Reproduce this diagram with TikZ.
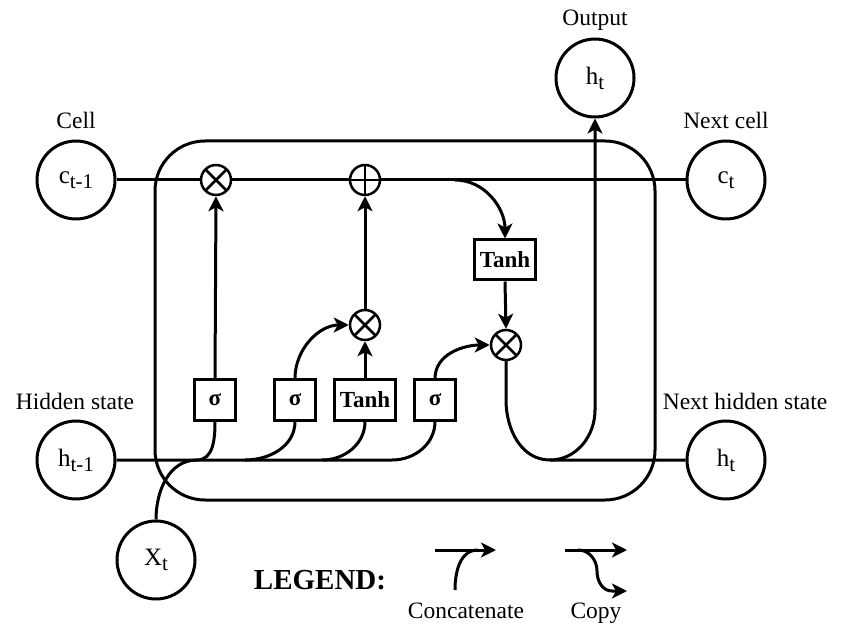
\documentclass[tikz,border=0pt]{standalone}
\usepackage{fontspec}
\setmainfont{Liberation Serif}
\usetikzlibrary{positioning, arrows.meta}

\newcommand{\lsub}[1]{\raisebox{-5pt}{\fontsize{21}{21}\selectfont #1}}

\tikzset{
  unit/.style={draw, circle, line width=3pt, minimum size=78pt, inner sep=0pt, font=\fontsize{25}{28}\selectfont},
  lbl/.style={font=\fontsize{23.5}{28}\selectfont},
  gate/.style={draw, fill=white, line width=3pt, minimum width=41pt, minimum height=40pt, inner sep=0pt, font=\bfseries\fontsize{23}{26}\selectfont},
  wgate/.style={gate, minimum width=61pt},
  opmul/.style={draw, circle, fill=white, line width=2.5pt, minimum size=30pt, inner sep=0pt,
    path picture={\draw[line width=2.5pt] (path picture bounding box.north west) -- (path picture bounding box.south east)
      (path picture bounding box.north east) -- (path picture bounding box.south west);}},
  opadd/.style={draw, circle, fill=white, line width=2.5pt, minimum size=30pt, inner sep=0pt,
    path picture={\draw[line width=2.5pt] (path picture bounding box.north) -- (path picture bounding box.south)
      (path picture bounding box.west) -- (path picture bounding box.east);}},
  wire/.style={line width=3pt},
  arr/.style={wire, -{Stealth[length=15pt,width=15pt,inset=4pt]}},
}

\begin{document}
\begin{tikzpicture}[x=1pt, y=1pt]
\useasboundingbox (0,0) rectangle (842,632);

% --- Cell body ---
\draw[wire, rounded corners=50pt] (155,491) rectangle (655,132);

% --- Inputs and outputs ---
\node[unit] (cprev) at (76,452) {c\lsub{t-1}};
\node[lbl] (lcell) at (76,512) {Cell};
\node[unit] (hprev) at (76,172) {h\lsub{t-1}};
\node[lbl] (lhid) at (75,231) {Hidden state};
\node[unit] (xt) at (156,72) {X\lsub{t}};
\node[unit] (out) at (595,554) {h\lsub{t}};
\node[lbl] (lout) at (595,612) {Output};
\node[unit] (cnext) at (726,452) {c\lsub{t}};
\node[lbl] (lcnext) at (726,512) {Next cell};
\node[unit] (hnext) at (726,172) {h\lsub{t}};
\node[lbl] (lhnext) at (745,231) {Next hidden state};

% --- Gates and pointwise ops ---
\node[gate] (sig1) at (215,232) {σ};
\node[gate] (sig2) at (295,232) {σ};
\node[wgate] (tanh1) at (365,232) {Tanh};
\node[gate] (sig3) at (435,232) {σ};
\node[wgate] (tanh2) at (505,372) {Tanh};
\node[opmul] (fmul) at (216,452) {};
\node[opadd] (add) at (365,452) {};
\node[opmul] (imul) at (365,307) {};
\node[opmul] (omul) at (506,287) {};

\coordinate (cbr) at (455,452);
\coordinate (mrg) at (197,172);
\coordinate (hjoin) at (550,172);

% cell state line
\draw[wire] (cprev.east) -- (fmul.west) (fmul.east) -- (add.west) (add.east) -- (cnext.west);
\draw[arr] (cbr) to[out=0,in=90] (tanh2.north);

% hidden state + input
\draw[wire] (hprev.east) -- (392,172) to[out=0,in=-90] (sig3.south);
\draw[wire] (xt.north) to[out=90,in=180] (mrg);
\draw[wire] (mrg) to[out=0,in=-90] (sig1.south);
\draw[wire] (245,172) to[out=0,in=-90] (sig2.south);
\draw[wire] (322,172) to[out=0,in=-90] (tanh1.south);

% gates to ops
\draw[arr] (sig1.north) -- (fmul.south);
\draw[arr] (sig2.north) to[out=90,in=180] (imul.west);
\draw[arr] (tanh1.north) -- (imul.south);
\draw[arr] (imul.north) -- (add.south);
\draw[arr] (sig3.north) to[out=90,in=180] (omul.west);
\draw[arr] (tanh2.south) -- (omul.north);

% new hidden state
\draw[wire] (omul.south) -- (506,232) to[out=-90,in=180] (hjoin) -- (hnext.west);
\draw[arr] (hjoin) to[out=0,in=-90] (595,222) -- (out.south);

% --- Legend ---
\node[font=\bfseries\fontsize{29}{32}\selectfont] (leg) at (320,52) {LEGEND:};
\draw[arr] (435,82) -- (496,82);
\draw[wire] (455,42) to[out=90,in=180] (478,82);
\node[lbl, anchor=base] (lcat) at (466,14) {Concatenate};
\draw[arr] (565,82) -- (627,82);
\draw[arr] (578,82) to[out=0,in=90] (597,61) to[out=-90,in=180] (612,41) -- (627,41);
\node[lbl, anchor=base] (lcopy) at (596,14) {Copy};

\end{tikzpicture}
\end{document}
